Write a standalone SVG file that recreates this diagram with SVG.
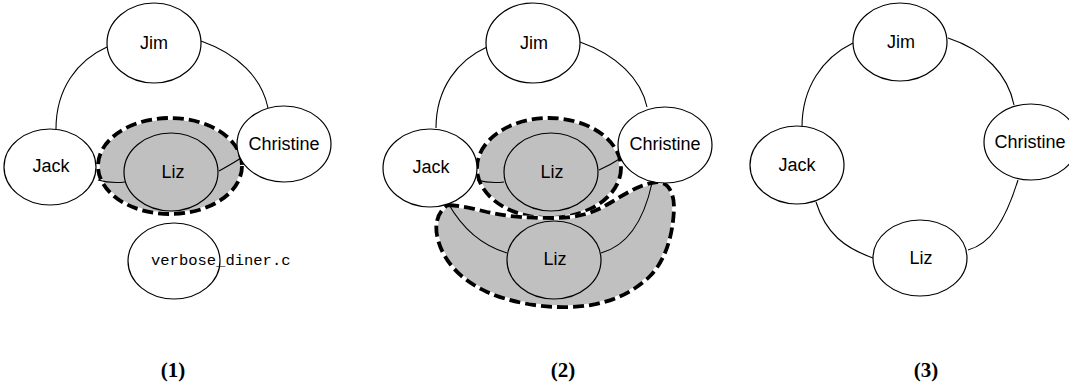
<svg xmlns="http://www.w3.org/2000/svg" width="1069" height="386" viewBox="0 0 1069 386">
<style>
.n{fill:#fff;stroke:#000;stroke-width:1.2}
.g{fill:#c0c0c0;stroke:#000;stroke-width:1.2}
.t{font-family:"Liberation Sans",Arial,sans-serif;font-size:18px;text-anchor:middle;fill:#000}
.m{font-family:"Liberation Mono","Courier New",monospace;font-size:15.5px;fill:#000}
.c{fill:none;stroke:#000;stroke-width:1.1}
.hw{fill:#c0c0c0;stroke:#fff;stroke-width:3.5}
.hd{fill:none;stroke:#000;stroke-width:3.8;stroke-dasharray:11 5}
.cap{font-family:"Liberation Serif","Times New Roman",serif;font-size:21px;font-weight:bold;text-anchor:middle;fill:#000}
</style>
<rect width="1069" height="386" fill="#fff"/>

<!-- Panel 1 -->
<g id="p1-hull">
<ellipse class="hw" cx="170" cy="166" rx="72" ry="48"/>
<ellipse class="hd" cx="170" cy="166" rx="72" ry="48"/>
</g>
<g id="p1-connectors">
<path class="c" d="M107,47 C78,60 56,88 56,129"/>
<path class="c" d="M201,41 C238,54 262,78 268,108"/>
<path class="c" d="M98,180 C108,183 116,183 125,182"/>
<path class="c" d="M219,171 C228,166 235,162 241,158"/>
</g>
<g id="p1-jim"><ellipse class="n" cx="154" cy="43" rx="47" ry="40"/><text class="t" x="154" y="49">Jim</text></g>
<g id="p1-jack"><ellipse class="n" cx="50" cy="167" rx="46" ry="38"/><text class="t" x="51" y="172">Jack</text></g>
<g id="p1-christine"><ellipse class="n" cx="284" cy="144" rx="47" ry="38"/><text class="t" x="284" y="150">Christine</text></g>
<g id="p1-liz"><ellipse class="g" cx="171" cy="172" rx="47" ry="39"/><text class="t" x="173" y="178">Liz</text></g>
<g id="p1-verbose"><ellipse class="n" cx="174" cy="261" rx="46" ry="38"/><text class="m" x="151" y="265">verbose_diner.c</text></g>

<!-- Panel 2 -->
<g id="p2-hulls">
<ellipse class="hw" cx="549" cy="168" rx="72" ry="50"/>
<ellipse class="hd" cx="549" cy="168" rx="72" ry="50"/>
<path class="hw" d="M448,205 C462,206 475,209 487,212 C505,216 520,218 553,218 C580,218 595,212 610,203 C625,194 640,184 657,182 C668,182 674,192 674,208 C673,238 664,262 650,276 C632,294 605,306 570,307 C540,308 510,302 487,292 C465,282 445,265 438,240 C434,225 437,212 448,205 Z"/>
<path class="hd" d="M448,205 C462,206 475,209 487,212 C505,216 520,218 553,218 C580,218 595,212 610,203 C625,194 640,184 657,182 C668,182 674,192 674,208 C673,238 664,262 650,276 C632,294 605,306 570,307 C540,308 510,302 487,292 C465,282 445,265 438,240 C434,225 437,212 448,205 Z"/>
</g>
<g id="p2-connectors">
<path class="c" d="M487,47 C458,60 436,88 436,128"/>
<path class="c" d="M580,42 C617,55 641,79 647,107"/>
<path class="c" d="M477,180 C487,183 495,183 504,182"/>
<path class="c" d="M599,170 C608,166 615,162 621,158"/>
<path class="c" d="M448,203 C462,228 480,245 507,253"/>
<path class="c" d="M652,183 C645,215 630,245 601,253"/>
</g>
<g id="p2-jim"><ellipse class="n" cx="533" cy="43" rx="47" ry="40"/><text class="t" x="534" y="49">Jim</text></g>
<g id="p2-jack"><ellipse class="n" cx="430" cy="168" rx="47" ry="39"/><text class="t" x="431" y="173">Jack</text></g>
<g id="p2-christine"><ellipse class="n" cx="665" cy="145" rx="47" ry="38"/><text class="t" x="665" y="150">Christine</text></g>
<g id="p2-liz-top"><ellipse class="g" cx="551" cy="172" rx="47" ry="39"/><text class="t" x="552" y="178">Liz</text></g>
<g id="p2-liz-bottom"><ellipse class="g" cx="554" cy="260" rx="47" ry="39"/><text class="t" x="555" y="265">Liz</text></g>

<!-- Panel 3 -->
<g id="p3-connectors">
<path class="c" d="M853,43 C822,58 802,88 802,127"/>
<path class="c" d="M948,38 C985,50 1008,75 1014,105"/>
<path class="c" d="M816,202 C826,234 845,248 873,258"/>
<path class="c" d="M1018,180 C1005,222 990,244 968,250"/>
</g>
<g id="p3-jim"><ellipse class="n" cx="900" cy="42" rx="47" ry="39"/><text class="t" x="901" y="48">Jim</text></g>
<g id="p3-jack"><ellipse class="n" cx="797" cy="165" rx="47" ry="39"/><text class="t" x="797" y="171">Jack</text></g>
<g id="p3-christine"><ellipse class="n" cx="1031" cy="142" rx="47" ry="38"/><text class="t" x="1030" y="148">Christine</text></g>
<g id="p3-liz"><ellipse class="n" cx="920" cy="258" rx="47" ry="38"/><text class="t" x="921" y="264">Liz</text></g>

<!-- Captions -->
<text class="cap" x="173" y="377">(1)</text>
<text class="cap" x="563" y="377">(2)</text>
<text class="cap" x="926" y="377">(3)</text>
</svg>
